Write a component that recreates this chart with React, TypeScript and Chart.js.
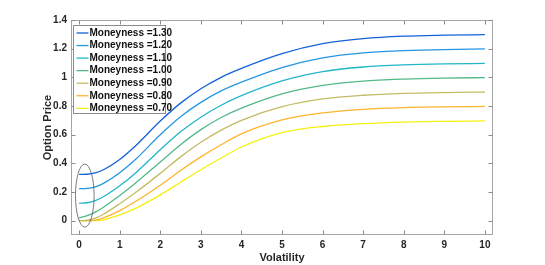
import React, { useEffect, useRef } from 'react';
import { Chart, registerables } from 'chart.js';

Chart.register(...registerables);

// ---- data ----
const volatility = [0, 0.2, 0.4, 0.6, 1, 1.4, 2, 2.5, 3, 3.5, 4, 5, 6, 7, 8, 9, 10];

const moneynessLabels = [
  'Moneyness =1.30',
  'Moneyness =1.20',
  'Moneyness =1.10',
  'Moneyness =1.00',
  'Moneyness =0.90',
  'Moneyness =0.80',
  'Moneyness =0.70',
];

const price130 = [0.323, 0.324, 0.333, 0.355, 0.427, 0.525, 0.695, 0.82, 0.92, 1.0, 1.062, 1.165, 1.235, 1.27, 1.287, 1.294, 1.298];
const price120 = [0.223, 0.225, 0.236, 0.26, 0.334, 0.43, 0.6, 0.725, 0.825, 0.905, 0.966, 1.068, 1.136, 1.171, 1.186, 1.194, 1.198];
const price110 = [0.121, 0.125, 0.14, 0.167, 0.243, 0.335, 0.495, 0.62, 0.722, 0.805, 0.872, 0.975, 1.04, 1.072, 1.087, 1.094, 1.097];
const price100 = [0.02, 0.035, 0.06, 0.094, 0.175, 0.265, 0.41, 0.53, 0.635, 0.72, 0.785, 0.885, 0.944, 0.974, 0.988, 0.995, 0.998];
const price090 = [0, 0.003, 0.017, 0.045, 0.118, 0.198, 0.33, 0.445, 0.547, 0.632, 0.7, 0.795, 0.849, 0.875, 0.888, 0.894, 0.897];
const price080 = [0, 0, 0.004, 0.02, 0.07, 0.135, 0.247, 0.35, 0.445, 0.53, 0.606, 0.703, 0.752, 0.777, 0.789, 0.794, 0.797];
const price070 = [0, 0, 0, 0.006, 0.04, 0.087, 0.18, 0.268, 0.355, 0.437, 0.514, 0.614, 0.657, 0.677, 0.688, 0.693, 0.696];

const seriesColors = ['#1262d9', '#2496e2', '#22b6c9', '#54b889', '#c4bb64', '#fdb52c', '#f4f010'];

const xTicks = [0, 1, 2, 3, 4, 5, 6, 7, 8, 9, 10];
const yTicks = [0, 0.2, 0.4, 0.6, 0.8, 1, 1.2, 1.4];

// ellipse annotation (data units)
const ellipseCenter = [0.14, 0.175];
const ellipseRadius = [0.23, 0.22];

const FONT = "'Liberation Sans', Arial, Helvetica, sans-serif";

export default function App() {
  const ref = useRef<HTMLCanvasElement>(null);

  useEffect(() => {
    const canvas = ref.current;
    if (!canvas) return;
    const series = [price130, price120, price110, price100, price090, price080, price070];

    const datasets = series.map((vals, i) => ({
      label: moneynessLabels[i],
      data: volatility.map((x, j) => ({ x, y: vals[j] })),
      borderColor: seriesColors[i],
      backgroundColor: seriesColors[i],
      borderWidth: 1.3,
      pointRadius: 0,
      cubicInterpolationMode: 'monotone' as const,
      fill: false,
    }));

    const framePlugin = {
      id: 'matlabFrame',
      afterDatasetsDraw(chart: any) {
        const { ctx, chartArea: a, scales } = chart;
        const xs = scales.x;
        const ys = scales.y;
        ctx.save();

        // ellipse
        const cx = xs.getPixelForValue(ellipseCenter[0]);
        const cy = ys.getPixelForValue(ellipseCenter[1]);
        const rx = Math.abs(xs.getPixelForValue(ellipseCenter[0] + ellipseRadius[0]) - cx);
        const ry = Math.abs(ys.getPixelForValue(ellipseCenter[1] + ellipseRadius[1]) - cy);
        ctx.beginPath();
        ctx.ellipse(cx, cy, rx, ry, 0, 0, Math.PI * 2);
        ctx.strokeStyle = '#5a5a5a';
        ctx.lineWidth = 0.8;
        ctx.stroke();

        // box
        const L = Math.round(a.left) + 0.5;
        const R = Math.round(a.right) - 0.5;
        const T = Math.round(a.top) + 0.5;
        const B = Math.round(a.bottom) - 0.5;
        ctx.strokeStyle = '#a6a6a6';
        ctx.lineWidth = 1;
        ctx.strokeRect(L, T, R - L, B - T);

        // inward ticks
        ctx.strokeStyle = '#8c8c8c';
        ctx.beginPath();
        xTicks.forEach((v) => {
          const px = Math.round(xs.getPixelForValue(v)) + 0.5;
          ctx.moveTo(px, B);
          ctx.lineTo(px, B - 4);
          ctx.moveTo(px, T);
          ctx.lineTo(px, T + 4);
        });
        yTicks.forEach((v) => {
          const py = Math.round(ys.getPixelForValue(v)) + 0.5;
          ctx.moveTo(L, py);
          ctx.lineTo(L + 4, py);
          ctx.moveTo(R, py);
          ctx.lineTo(R - 4, py);
        });
        ctx.stroke();

        // legend
        const lx = Math.round(a.left) + 2.5;
        const ly = Math.round(a.top) + 5.5;
        const rowH = 12.55;
        const lw = 92;
        const lh = 88;
        ctx.fillStyle = '#ffffff';
        ctx.fillRect(lx, ly, lw, lh);
        ctx.strokeStyle = '#8c8c8c';
        ctx.lineWidth = 1;
        ctx.strokeRect(lx, ly, lw, lh);
        ctx.font = `bold 10px ${FONT}`;
        ctx.textBaseline = 'middle';
        ctx.textAlign = 'left';
        chart.data.datasets.forEach((ds: any, i: number) => {
          const y = ly + 7.5 + i * rowH;
          ctx.beginPath();
          ctx.strokeStyle = ds.borderColor;
          ctx.lineWidth = 1.3;
          ctx.moveTo(lx + 3, y);
          ctx.lineTo(lx + 15, y);
          ctx.stroke();
          ctx.fillStyle = '#111111';
          ctx.fillText(ds.label, lx + 16, y);
        });

        ctx.restore();
      },
    };

    const chart = new Chart(canvas, {
      type: 'line',
      data: { datasets },
      options: {
        animation: false,
        responsive: false,
        maintainAspectRatio: false,
        devicePixelRatio: 1,
        layout: { padding: { left: 0, top: 20, right: 52, bottom: 0 } },
        plugins: {
          legend: { display: false },
          tooltip: { enabled: false },
        },
        scales: {
          x: {
            type: 'linear',
            min: -0.2,
            max: 10.2,
            grid: { display: false, drawTicks: false },
            border: { display: false },
            afterBuildTicks: (s: any) => {
              s.ticks = xTicks.map((v) => ({ value: v }));
            },
            afterFit: (s: any) => {
              s.height = 30;
            },
            ticks: {
              autoSkip: false,
              maxRotation: 0,
              padding: 4,
              color: '#262626',
              font: { family: FONT, size: 10, weight: 'bold' },
              callback: (v: any) => String(v),
            },
            title: {
              display: true,
              text: 'Volatility',
              color: '#262626',
              font: { family: FONT, size: 11, weight: 'bold' },
              padding: { top: 0, bottom: 0 },
            },
          },
          y: {
            type: 'linear',
            min: -0.1,
            max: 1.4,
            grid: { display: false, drawTicks: false },
            border: { display: false },
            afterBuildTicks: (s: any) => {
              s.ticks = yTicks.map((v) => ({ value: v }));
            },
            afterFit: (s: any) => {
              s.width = 71;
            },
            ticks: {
              autoSkip: false,
              padding: 4,
              color: '#262626',
              font: { family: FONT, size: 10, weight: 'bold' },
              callback: (v: any) => String(Math.round(Number(v) * 10) / 10),
            },
            title: {
              display: true,
              text: 'Option Price',
              color: '#262626',
              font: { family: FONT, size: 11, weight: 'bold' },
              padding: { top: 41, bottom: 0 },
            },
          },
        },
      } as any,
      plugins: [framePlugin],
    });

    return () => {
      chart.destroy();
    };
  }, []);

  return (
    <div style={{ position: 'fixed', left: 0, top: 0, width: 545, height: 265, background: '#fff' }}>
      <canvas ref={ref} width={545} height={265} style={{ display: 'block', width: 545, height: 265 }} />
    </div>
  );
}
